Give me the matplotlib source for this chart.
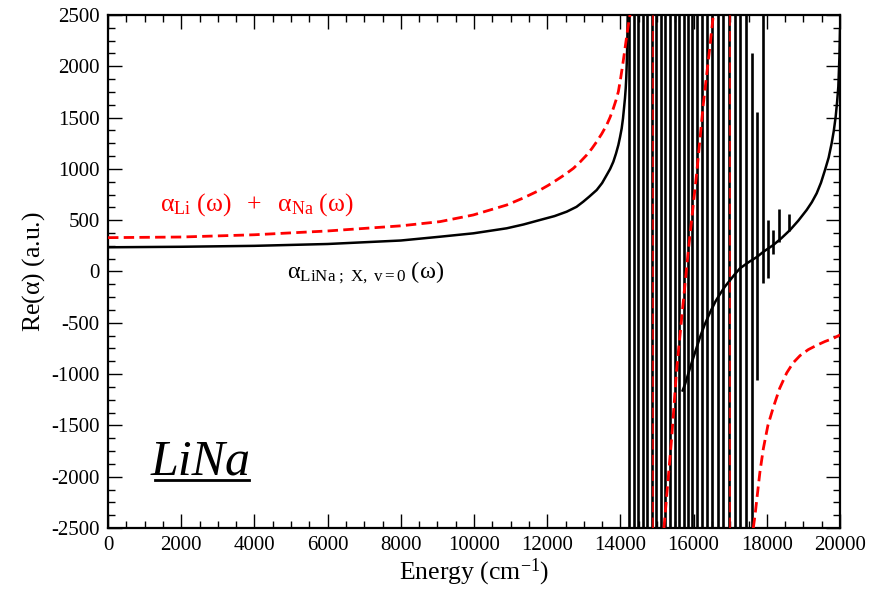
import matplotlib.pyplot as plt
import numpy as np

# Energia (cm-1) e Re(alpha) (u.a.)

# LiNa X, v=0 : ramo suave antes da banda de ressonancias
e_lina_low = [0, 2000, 4000, 6000, 8000, 9071, 9981, 10893, 11350, 11803,
              12200, 12533, 12800, 12987, 13150, 13352, 13500, 13625, 13720, 13807,
              13880, 13944, 13990, 14035, 14070, 14098, 14125, 14145, 14160, 14172,
              14187, 14199]
a_lina_low = [236, 241, 250, 268, 302, 339, 372, 421, 458, 502,
              540, 583, 630, 681, 730, 794, 862, 940, 1000, 1070,
              1150, 1233, 1310, 1395, 1490, 1590, 1690, 1785, 1890, 2013,
              2200, 2500]

# LiNa : fundo suave dentro e depois da banda
e_lina_high = [15700, 15765, 15902, 15993, 16175, 16300, 16448, 16600, 16721, 16850,
               16995, 17130, 17268, 17500, 17723, 17900, 18000, 18178, 18400, 18634,
               18860, 19090, 19230, 19363, 19480, 19590, 19690, 19772, 19830, 19882,
               19920, 19954, 19985, 20000]
a_lina_high = [-1160, -1100, -940, -840, -640, -520, -400, -290, -220, -150,
               -85, -25, 31, 90, 140, 190, 215, 258, 325, 404,
               495, 600, 675, 762, 865, 989, 1110, 1250, 1370, 1509,
               1650, 1801, 2100, 2350]

# ressonancias (linhas verticais): posicao, topo, base
res_e = [14235, 14358, 14481, 14604, 14727, 14850, 14986, 15109, 15232, 15355,
         15478, 15601, 15724, 15847, 15956, 16093, 16230, 16366, 16503, 16653,
         16803, 16954, 17131, 17268, 17418, 17582, 17732, 17896, 18042, 18178,
         18342, 18615]
res_top = [2500] * 25 + [2130, 1550, 2500, 500, 405, 606, 560]
res_bot = [-2500] * 25 + [-2500, -1060, -110, -60, 175, 290, 390]

# alpha_Li + alpha_Na (tres ramos entre os polos)
e_atom_1 = [0, 2000, 4000, 6000, 8000, 9071, 9981, 10893, 11350, 11803,
            12030, 12259, 12490, 12714, 12900, 13078, 13220, 13352, 13490, 13625,
            13720, 13807, 13880, 13944, 14005, 14062, 14095, 14126, 14175, 14217,
            14262]
a_atom_1 = [330, 336, 358, 395, 445, 486, 551, 648, 717, 794,
            840, 892, 946, 1005, 1068, 1135, 1198, 1265, 1342, 1428,
            1505, 1590, 1670, 1753, 1880, 2013, 2095, 2175, 2300, 2403,
            2500]
e_atom_2 = [15190, 15401, 15538, 15675, 15855, 16085, 16265, 16448, 16538]
a_atom_2 = [-2500, -1620, -950, -450, 200, 960, 1630, 2200, 2500]
e_atom_3 = [17631, 17680, 17724, 17810, 17905, 18030, 18178, 18350, 18544, 18720,
            18907, 19130, 19363, 19590, 19817, 20000]
a_atom_3 = [-2500, -2370, -2231, -1960, -1727, -1500, -1324, -1140, -988, -890,
            -820, -762, -719, -682, -652, -618]
polos = [14900, 16990]

plt.rcParams['font.family'] = 'serif'
plt.rcParams['font.serif'] = ['Liberation Serif', 'DejaVu Serif']
plt.rcParams['mathtext.fontset'] = 'custom'
plt.rcParams['mathtext.rm'] = 'Liberation Serif'
plt.rcParams['mathtext.it'] = 'Liberation Serif:italic'
plt.rcParams['axes.unicode_minus'] = False
plt.rcParams['lines.scale_dashes'] = False

fig = plt.figure(figsize=(8.74, 5.99), dpi=100)
ax = fig.add_axes([0.1236, 0.1185, 0.8375, 0.8565])

preto = dict(color='black', lw=1.8)
vermelho = dict(color='red', lw=2.0, dashes=(7.5, 3.8))

ax.plot(np.array(e_lina_low), np.array(a_lina_low), **preto, zorder=2)
ax.plot(np.array(e_lina_high), np.array(a_lina_high), **preto, zorder=2)
ax.vlines(res_e, res_bot, res_top, color='black', lw=1.9, zorder=2)

for e, a in [(e_atom_1, a_atom_1), (e_atom_2, a_atom_2), (e_atom_3, a_atom_3)]:
    ax.plot(e, a, **vermelho, zorder=3)
# polos atomicos (Li 2p e Na 3p): linha vertical tracejada fina
for p in polos:
    ax.plot([p, p], [-2500, 2500], color='red', lw=1.1, dashes=(7.5, 3.8), zorder=3)

ax.set_xlim(0, 20000)
ax.set_ylim(-2500, 2500)
ax.set_xticks(np.arange(0, 20001, 2000))
ax.set_xticks(np.arange(0, 20001, 500), minor=True)
ax.set_yticks(np.arange(-2500, 2501, 500))
ax.set_yticks(np.arange(-2500, 2501, 125), minor=True)
ax.tick_params(which='both', direction='in', top=True, right=True, width=1.0,
               labelsize=15, pad=6)
ax.tick_params(which='major', length=10)
ax.tick_params(which='minor', length=5)
for s in ax.spines.values():
    s.set_linewidth(1.6)

ax.set_xlabel(r'Energy (cm$^{\mathrm{-1}}$)', fontsize=18.5, labelpad=1)
ax.set_ylabel(r'Re($\mathrm{α}$) (a.u.)', fontsize=18.5, labelpad=3)

ax.text(1420, 590, r'$\mathrm{α}_{\mathrm{Li}}\ \mathrm{(ω)}\ \ +\ \ \mathrm{α}_{\mathrm{Na}}\ \mathrm{(ω)}$',
        color='red', fontsize=18.5, ha='left', va='baseline')
ax.text(4900, -66, r'$\mathrm{α}_{\mathrm{LiNa\ ;\ X,\ v=0}}\ \mathrm{(ω)}$',
        color='black', fontsize=17.5, ha='left', va='baseline')

txt = ax.text(1150, -1983, 'LiNa', fontsize=36, style='italic',
              ha='left', va='baseline')
fig.canvas.draw()
bb = txt.get_window_extent().transformed(ax.transData.inverted())
ax.plot([bb.x0 + 120, bb.x1 - 20], [-2035, -2035], color='black', lw=2)

fig.savefig('out.png', dpi=100)
